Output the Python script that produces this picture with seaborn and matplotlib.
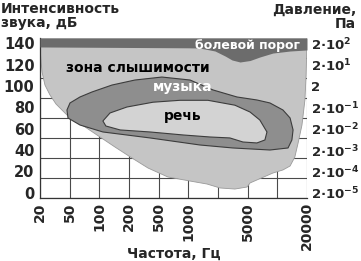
import numpy as np
import matplotlib
matplotlib.use("Agg")
import matplotlib.pyplot as plt
from matplotlib.ticker import FixedLocator, LinearLocator, NullFormatter
import seaborn as sns

# ---------------- data ----------------
grid_freqs = [20, 50, 100, 200, 500, 1000, 2000, 5000, 10000, 20000]
freq_ticks = [20, 50, 100, 200, 500, 1000, 5000, 20000]
freq_tick_labels = ["20", "50", "100", "200", "500", "1000", "5000", "20000"]
db_ticks = [0, 20, 40, 60, 80, 100, 120, 140]
pressure_labels = [r"2·10$^{-5}$", r"2·10$^{-4}$", r"2·10$^{-3}$", r"2·10$^{-2}$",
                   r"2·10$^{-1}$", "2", r"2·10$^{1}$", r"2·10$^{2}$"]

# hearing zone outline (threshold of hearing + right edge), Hz / dB
hear_f = [20, 20, 20.6, 21.3, 23.3, 27.2, 32.8, 39.4, 50.4, 71.6, 101.5, 144, 219, 360,
          620, 1042, 1548, 2131, 3372, 4909, 5285, 6200, 9012, 11400, 13470, 15050,
          16250, 17780, 19050, 19590, 20000]
hear_db = [145, 136.6, 124.4, 113.1, 100.9, 91.6, 83.1, 77.5, 70, 61.6, 52.2, 42.8, 32.5, 23.1,
           14.7, 10.9, 8.1, 4.4, 3.4, 5.3, 9.1, 11.9, 18.4, 21.3, 25, 33.4,
           46.6, 63.4, 86.9, 110.3, 145]

# threshold of pain (lower edge of dark band)
pain_f = [20, 1000, 1310, 1866, 2492, 3081, 3944, 5285, 6644, 9012, 13470, 20000]
pain_db = [136.6, 135.8, 135.6, 132.8, 128.1, 124.4, 122.5, 123.9, 127.2, 130.9, 132.8, 133.8]

# music region
music_f = [46, 50.4, 63.6, 84.3, 134.4, 240, 539, 1042, 1778, 3596, 6200, 8409, 11400,
           13470, 14440, 14050, 12840, 8409, 3162, 1310, 383, 108.7, 63.7, 47.5]
music_db = [77.5, 84.1, 89.7, 94.4, 100.9, 105.6, 108.4, 105.6, 96.3, 89.7, 86.9, 84.1, 77.5,
            70, 58.8, 49.4, 41.9, 40, 41.9, 44.7, 51.3, 56.9, 63.4, 70]

# speech region
speech_f = [108.7, 128.3, 190.5, 420, 824, 1580, 3372, 5285, 6644, 7846, 7480, 6200,
            4322, 2888, 1659, 883, 383, 162.5, 116.5]
speech_db = [67.2, 74.7, 80.3, 84.8, 86.6, 86.6, 82, 75.6, 68.1, 56.9, 49.4, 46.6,
             47.5, 51.3, 52.2, 54.1, 56.9, 58.8, 62.5]

# ---------------- style ----------------
sns.set_theme(style="white")
plt.rcParams["font.family"] = ["DejaVu Sans"]
plt.rcParams["font.weight"] = "bold"
plt.rcParams["mathtext.fontset"] = "dejavusans"
plt.rcParams["mathtext.default"] = "bf"

W, H = 361, 261
fig = plt.figure(figsize=(W / 100, H / 100), dpi=100)
ax = fig.add_axes([40 / W, 1 - 198 / H, (307 - 40) / W, (198 - 38) / H])

lg = np.log10(grid_freqs)
idx = np.arange(len(grid_freqs), dtype=float)


def fwd(f):
    f = np.clip(np.asarray(f, dtype=float), 1e-6, None)
    return np.interp(np.log10(f), lg, idx)


def inv(x):
    return 10 ** np.interp(np.asarray(x, dtype=float), idx, lg)


ax.set_xscale("function", functions=(fwd, inv))
ax.set_xlim(20, 20000)
ax.set_ylim(-5, 145)

C_PAIN = "#6c6c6c"
C_HEAR = "#c5c5c5"
C_MUSIC = "#8e8e8e"
C_SPEECH = "#d3d3d3"
C_EDGE = "#3c3c3c"

ax.fill(hear_f, hear_db, color=C_HEAR, lw=0, zorder=2)
sns.lineplot(x=hear_f, y=hear_db, sort=False, estimator=None, color="#9a9a9a", lw=0.6,
             ax=ax, zorder=2.1)
ax.fill_between(pain_f, pain_db, 145, color=C_PAIN, lw=0, zorder=3)
ax.fill(music_f, music_db, facecolor=C_MUSIC, edgecolor=C_EDGE, lw=0.8, zorder=4)
ax.fill(speech_f, speech_db, facecolor=C_SPEECH, edgecolor=C_EDGE, lw=0.8, zorder=5)

# region labels
ax.text(5000, 138.4, "болевой порог", color="white", fontsize=9, fontweight="bold",
        ha="center", va="center", zorder=6)
ax.text(263, 116.9, "зона слышимости", color="black", fontsize=10, fontweight="bold",
        ha="center", va="center", zorder=6)
ax.text(883, 99, "музыка", color="white", fontsize=10, fontweight="bold",
        ha="center", va="center", zorder=6)
ax.text(883, 71.9, "речь", color="black", fontsize=10, fontweight="bold",
        ha="center", va="center", zorder=6)

# ticks & grid
ax.xaxis.set_major_locator(FixedLocator(freq_ticks))
ax.xaxis.set_minor_locator(FixedLocator(grid_freqs))
ax.xaxis.set_minor_formatter(NullFormatter())
ax.set_xticklabels(freq_tick_labels, rotation=90, fontsize=10, fontweight="bold")
ax.set_yticks(db_ticks)
ax.set_yticklabels([str(v) for v in db_ticks], fontsize=10.5, fontweight="bold")
ax.yaxis.set_minor_locator(LinearLocator(9))
ax.tick_params(axis="both", which="both", length=0)
ax.tick_params(axis="x", pad=3)
ax.tick_params(axis="y", pad=4)
ax.set_axisbelow(True)
ax.grid(which="minor", axis="both", color="#4a4a4a", lw=0.8)
ax.grid(which="major", axis="x", color="#4a4a4a", lw=0.8)
ax.grid(which="major", axis="y", visible=False)
for s in ["top", "right"]:
    ax.spines[s].set_visible(False)
for s in ["left", "bottom"]:
    ax.spines[s].set_color("#333333")
    ax.spines[s].set_linewidth(0.9)

sec = ax.secondary_yaxis("right")
sec.set_yticks(db_ticks)
sec.set_yticklabels(pressure_labels, fontsize=9.5, fontweight="bold")
sec.tick_params(length=0, pad=3)
sec.spines["right"].set_visible(False)

# axis titles
fig.text(1 / W, 1 - 2 / H, "Интенсивность\nзвука, дБ", ha="left", va="top",
         fontsize=10, fontweight="bold", linespacing=1.0)
fig.text(356 / W, 1 - 3 / H, "Давление,\nПа", ha="right", va="top", multialignment="right",
         fontsize=10, fontweight="bold", linespacing=1.0)
fig.text(174 / W, 1 - 254 / H, "Частота, Гц", ha="center", va="center",
         fontsize=10, fontweight="bold")

fig.savefig("out.png", dpi=100)
